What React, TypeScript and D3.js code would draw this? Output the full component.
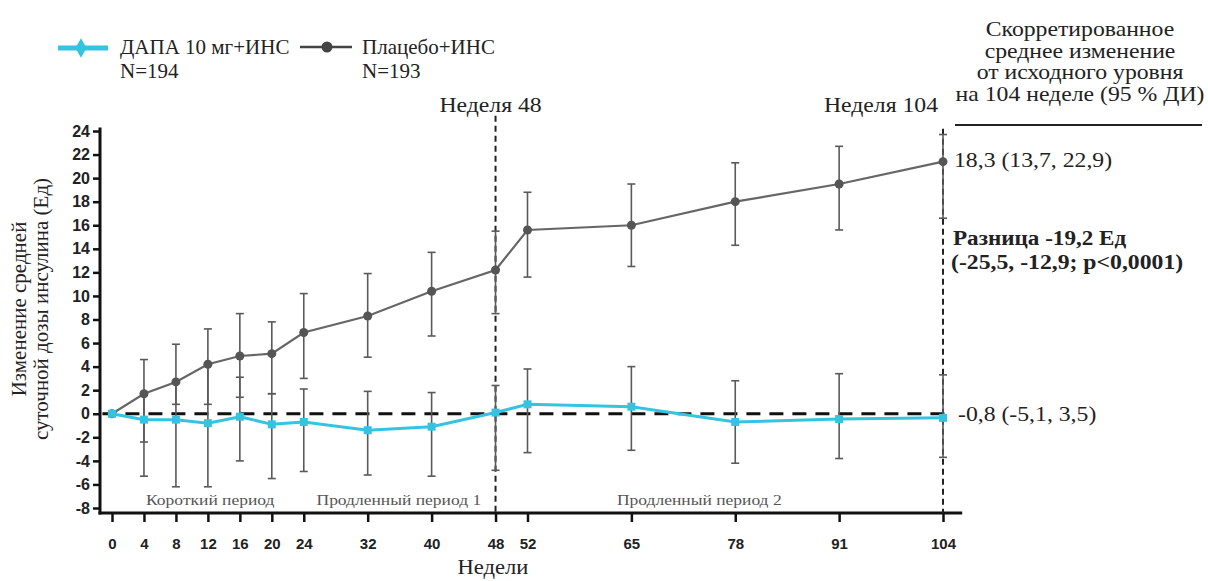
import * as d3 from "d3";
import React, { useEffect, useRef } from "react";

// weeks on the x axis
const weeks = [0, 4, 8, 12, 16, 20, 24, 32, 40, 48, 52, 65, 78, 91, 104];
const xTickValues = weeks;
const yTickValues = [-8, -6, -4, -2, 0, 2, 4, 6, 8, 10, 12, 14, 16, 18, 20, 22, 24];

// Плацебо+ИНС
const placeboMean = [0, 1.7, 2.7, 4.2, 4.9, 5.1, 6.9, 8.3, 10.4, 12.2, 15.6, 16.0, 18.0, 19.5, 21.4];
const placeboLow = [null, -2.4, 0.8, 0.8, 1.4, 1.7, 3.0, 4.8, 6.6, 8.5, 11.6, 12.5, 14.3, 15.6, 16.6];
const placeboHigh = [null, 4.6, 5.9, 7.2, 8.5, 7.8, 10.2, 11.9, 13.7, 15.5, 18.8, 19.5, 21.3, 22.7, 23.7];

// ДАПА 10 мг+ИНС
const dapaMean = [0, -0.5, -0.5, -0.8, -0.25, -0.9, -0.7, -1.4, -1.1, 0.1, 0.8, 0.6, -0.7, -0.45, -0.35];
const dapaLow = [null, -5.3, -6.2, -6.2, -4.0, -5.5, -4.9, -5.2, -5.3, -4.8, -3.3, -3.1, -4.2, -3.8, -3.7];
const dapaHigh = [null, 1.7, 2.7, 4.2, 3.1, 1.7, 2.1, 1.9, 1.8, 2.4, 3.8, 4.0, 2.8, 3.4, 3.3];

const markerWeeks = [48, 104];
const periods = [
  { label: "Короткий период", at: 12.3 },
  { label: "Продленный период 1", at: 35.9 },
  { label: "Продленный период 2", at: 73.5 },
];

const BLUE = "#34c4e0";
const GRAY = "#5a5a5a";
const SERIF = "'Liberation Serif', 'Times New Roman', serif";
const SANS = "'Liberation Sans', Arial, sans-serif";

export default function App() {
  const svgRef = useRef<SVGSVGElement>(null);

  useEffect(() => {
    const svg = d3.select(svgRef.current);
    svg.selectAll("*").remove();

    // serif text, slightly stretched like the scanned original
    const addText = (px, py, str, opts: any = {}) => {
      const sx = opts.sx ?? 1.13;
      return svg.append("text")
        .attr("transform", `translate(${px},${py}) scale(${sx},1)`)
        .attr("text-anchor", opts.anchor || "start")
        .attr("font-family", SERIF)
        .attr("font-size", opts.size || 21)
        .attr("font-weight", opts.bold ? "bold" : "normal")
        .attr("fill", opts.fill || "#222")
        .text(str);
    };

    const x = d3.scaleLinear().domain([0, 104]).range([112, 943]);
    const y = d3.scaleLinear().domain([-8, 24]).range([508, 131]);
    const axisLeftX = 100;
    const axisBottomY = 513;

    // y axis
    svg.append("g")
      .attr("transform", `translate(${axisLeftX},0)`)
      .call(d3.axisLeft(y).tickValues(yTickValues).tickSize(7).tickFormat(d => String(d)))
      .call(g => g.select(".domain").remove())
      .call(g => g.selectAll(".tick line").attr("stroke", "#111").attr("stroke-width", 2.5))
      .call(g => g.selectAll(".tick text")
        .attr("font-family", SANS).attr("font-weight", "bold").attr("font-size", 16)
        .attr("fill", "#222").attr("x", -10));

    // x axis
    svg.append("g")
      .attr("transform", `translate(0,${axisBottomY})`)
      .call(d3.axisBottom(x).tickValues(xTickValues).tickSize(9).tickFormat(d => String(d)))
      .call(g => g.select(".domain").remove())
      .call(g => g.selectAll(".tick line").attr("stroke", "#111").attr("stroke-width", 2.5))
      .call(g => g.selectAll(".tick text")
        .attr("font-family", SANS).attr("font-weight", "bold").attr("font-size", 15)
        .attr("fill", "#222").attr("y", 25));

    svg.append("line")
      .attr("x1", axisLeftX).attr("x2", axisLeftX)
      .attr("y1", y(24.3)).attr("y2", axisBottomY + 1.5)
      .attr("stroke", "#111").attr("stroke-width", 3);
    svg.append("line")
      .attr("x1", axisLeftX - 1.5).attr("x2", x(106.4))
      .attr("y1", axisBottomY).attr("y2", axisBottomY)
      .attr("stroke", "#111").attr("stroke-width", 3);

    // zero reference
    svg.append("line")
      .attr("x1", x(-1.2)).attr("x2", x(104) + 4)
      .attr("y1", y(0)).attr("y2", y(0))
      .attr("stroke", "#111").attr("stroke-width", 3)
      .attr("stroke-dasharray", "14,9");

    // vertical week markers
    markerWeeks.forEach(w => {
      svg.append("line")
        .attr("x1", x(w)).attr("x2", x(w))
        .attr("y1", w === 48 ? y(25.3) : y(24.2)).attr("y2", axisBottomY)
        .attr("stroke", "#222").attr("stroke-width", 2)
        .attr("stroke-dasharray", "6,4");
      addText(w === 48 ? x(w) - 5 : x(w) - 62, 112, `Неделя ${w}`, { anchor: "middle" });
    });

    // period labels
    periods.forEach(p => {
      addText(x(p.at), 505, p.label, { anchor: "middle", size: 15.5, fill: "#555" });
    });

    const drawErrors = (low, high) => {
      weeks.forEach((w, i) => {
        if (low[i] == null) return;
        const g = svg.append("g").attr("stroke", GRAY).attr("stroke-width", 1.6);
        g.append("line").attr("x1", x(w)).attr("x2", x(w)).attr("y1", y(low[i])).attr("y2", y(high[i]));
        g.append("line").attr("x1", x(w) - 4).attr("x2", x(w) + 4).attr("y1", y(low[i])).attr("y2", y(low[i]));
        g.append("line").attr("x1", x(w) - 4).attr("x2", x(w) + 4).attr("y1", y(high[i])).attr("y2", y(high[i]));
      });
    };
    drawErrors(placeboLow, placeboHigh);
    drawErrors(dapaLow, dapaHigh);

    const line = d3.line<number>().x((d, i) => x(weeks[i])).y(d => y(d));

    // placebo series
    svg.append("path").datum(placeboMean)
      .attr("fill", "none").attr("stroke", "#666").attr("stroke-width", 2.2)
      .attr("d", line);
    svg.selectAll(".pdot").data(placeboMean).enter().append("circle")
      .attr("cx", (d, i) => x(weeks[i])).attr("cy", d => y(d))
      .attr("r", 4.5).attr("fill", "#555");

    // dapa series
    svg.append("path").datum(dapaMean)
      .attr("fill", "none").attr("stroke", BLUE).attr("stroke-width", 3)
      .attr("d", line);
    svg.selectAll(".ddot").data(dapaMean).enter().append("path")
      .attr("transform", (d, i) => `translate(${x(weeks[i])},${y(d)})`)
      .attr("d", d3.symbol(d3.symbolSquare, 64)())
      .attr("fill", BLUE);

    // legend
    svg.append("line").attr("x1", 58).attr("x2", 108).attr("y1", 48).attr("y2", 48)
      .attr("stroke", BLUE).attr("stroke-width", 5);
    svg.append("path").attr("transform", "translate(81,48)")
      .attr("d", d3.symbol(d3.symbolDiamond, 110)()).attr("fill", BLUE);
    svg.append("line").attr("x1", 300).attr("x2", 352).attr("y1", 47).attr("y2", 47)
      .attr("stroke", "#444").attr("stroke-width", 2.5);
    svg.append("circle").attr("cx", 327).attr("cy", 47).attr("r", 5.5).attr("fill", "#444");
    const legendText = [
      { x: 120, lines: ["ДАПА 10 мг+ИНС", "N=194"] },
      { x: 362, lines: ["Плацебо+ИНС", "N=193"] },
    ];
    legendText.forEach(l => {
      l.lines.forEach((t, j) => addText(l.x, 54 + j * 24, t, { sx: 1.0 }));
    });

    // y axis title
    const yTitle = svg.append("text")
      .attr("transform", "translate(26,309) rotate(-90)")
      .attr("text-anchor", "middle")
      .attr("font-family", SERIF).attr("font-size", 21).attr("fill", "#222");
    yTitle.append("tspan").attr("x", 0).attr("dy", 0).text("Изменение средней");
    yTitle.append("tspan").attr("x", 0).attr("dy", 22).text("суточной дозы инсулина (Ед)");

    // x axis title
    addText(493, 574, "Недели", { anchor: "middle", size: 20 });

    // right-hand annotations
    const header = ["Скорретированное", "среднее изменение", "от исходного уровня", "на 104 неделе (95 % ДИ)"];
    header.forEach((t, j) => addText(1080, 36 + j * 21.5, t, { anchor: "middle" }));
    svg.append("line").attr("x1", 955).attr("x2", 1202).attr("y1", 125).attr("y2", 125)
      .attr("stroke", "#222").attr("stroke-width", 2);

    addText(954, 167, "18,3 (13,7, 22,9)");
    addText(953, 245, "Разница -19,2 Ед", { bold: true, sx: 1.1 });
    addText(951, 269, "(-25,5, -12,9; p<0,0001)", { bold: true, sx: 1.13 });
    addText(958, 421, "-0,8 (-5,1, 3,5)");
  }, []);

  return (
    <svg
      ref={svgRef}
      width={1208}
      height={581}
      style={{ position: "absolute", left: 0, top: 0, background: "#fff" }}
    />
  );
}
